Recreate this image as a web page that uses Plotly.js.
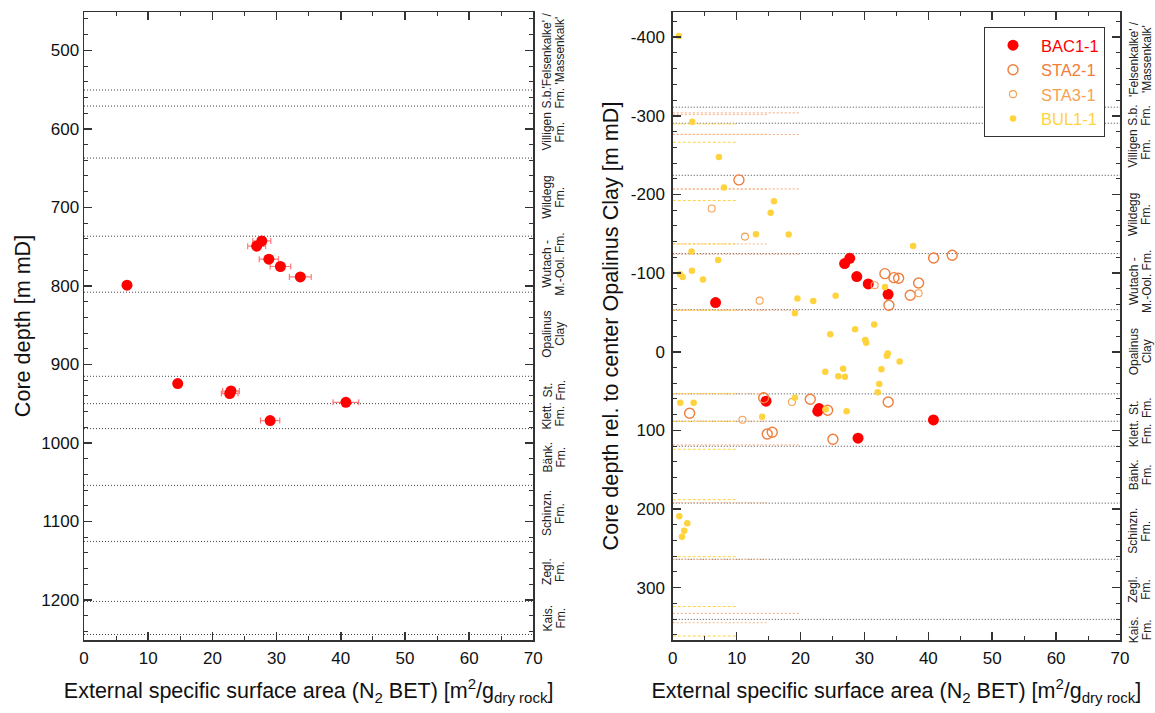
<!DOCTYPE html>
<html><head><meta charset="utf-8">
<script src="https://cdn.plot.ly/plotly-3.0.1.min.js"></script>
<style>html,body{margin:0;padding:0;background:#fff}#chart{width:1155px;height:713px}</style>
</head><body><div id="chart"></div>
<script>
// ---------------- data ----------------
const wellNames = ['BAC1-1', 'STA2-1', 'STA3-1', 'BUL1-1'];
const wellColors = ['#ff0000', '#f07d3b', '#f5a253', '#ffd33d'];

// BAC1-1: absolute core depth (left panel)
const bacX     = [6.7, 27.7, 26.9, 28.8, 30.6, 33.7, 14.6, 22.9, 22.7, 40.8, 29.0];
const bacDepth = [799, 742.7, 749.4, 766, 775.3, 788.5, 924.4, 933.8, 937.1, 948.2, 971.5];
const bacErr   = [0.4, 1.4, 1.4, 1.5, 1.6, 1.7, 0.4, 1.3, 1.3, 2.0, 1.5];

// depths relative to centre of Opalinus Clay (right panel)
const sta2X   = [10.36, 40.83, 43.74, 33.21, 34.62, 35.35, 38.48, 37.17, 33.83, 2.64, 14.23, 21.52, 14.79, 15.57, 33.72, 24.24, 25.07];
const sta2Rel = [-218.5, -119.3, -122.7, -99.3, -94.2, -93.5, -87.5, -71.9, -59.1, 78.2, 58.4, 60.4, 104.5, 102.4, 63.8, 74.4, 111.3];

const sta3X   = [6.09, 11.30, 13.60, 31.60, 38.48, 18.65, 10.91];
const sta3Rel = [-182.2, -146.4, -65.0, -84.6, -74.4, 63.8, 86.4];

const bulX   = [0.97, 3.05, 7.23, 8.01, 15.84, 15.32, 13.02, 18.14, 2.93, 7.10, 1.13, 1.55, 3.00, 4.73, 19.51, 19.12, 21.99, 25.49, 33.21, 37.62,
                24.65, 28.54, 31.52, 30.13, 30.28, 33.52, 33.65, 35.51, 32.66, 23.87, 26.67, 25.90, 26.95, 32.32, 32.08, 1.17, 3.27, 19.12, 13.99, 23.94,
                27.21, 1.02, 2.27, 1.80, 1.44];
const bulRel = [-401.6, -292.6, -247.7, -208.7, -191.4, -176.9, -149.4, -149.2, -127.6, -116.7, -98.6, -95.1, -103.1, -91.9, -67.8, -49.0, -64.6, -71.3, -82.4, -134.6,
                -22.3, -28.7, -34.5, -14.8, -11.4, 5.0, 2.2, 12.3, 22.3, 25.3, 21.5, 31.2, 31.7, 41.0, 51.5, 64.7, 64.7, 58.4, 82.5, 73.1,
                75.7, 209.2, 218.1, 227.5, 235.2];

// formation boundaries
const bacBoundaries  = [550.6, 571, 637.2, 736.7, 808.0, 915.1, 949.9, 981.7, 1054, 1125.4, 1201.8, 1243.9];
const opaTopIndex = 4, opaBaseIndex = 5;
const sta2Boundaries = [-303.7, -276.4, -207.0, -124.0, -52.8, 118.5, 332.6];
const sta3Boundaries = [-301.5, -276.4, -207.0, -137.1, -52.8, 53.3, 88.4, 191.9, 264.0, 344.5];
const bulBoundaries  = [-289.7, -266.4, -192.2, -137.1, -52.8, 53.3, 88.4, 124.0, 188.0, 260.5, 324.0, 361.4];

const formationLabels = ["'Felsenkalke' /<br>'Massenkalk'", "S.b.<br>Fm.", "Villigen<br>Fm.", "Wildegg<br>Fm.",
  "Wutach -<br>M.-Ool. Fm.", "Opalinus<br>Clay", "St.<br>Fm.", "Klett.<br>Fm.", "Bänk.<br>Fm.",
  "Schinzn.<br>Fm.", "Zegl.<br>Fm.", "Kais.<br>Fm."];

const leftTicks  = [500, 600, 700, 800, 900, 1000, 1100, 1200];
const rightTicks = [-400, -300, -200, -100, 0, 100, 200, 300];
const xTicks = [0, 10, 20, 30, 40, 50, 60, 70];

// ---------------- style ----------------
const FONT = 'Liberation Sans, Arial, Helvetica, sans-serif';
const leftRange = [1250.9, 451.2];
const rightRange = [366.5, -432.0];
const opaCenter = (bacBoundaries[opaTopIndex] + bacBoundaries[opaBaseIndex]) / 2;
const bacRel = bacDepth.map(d => d - opaCenter);
const bacRelBoundaries = bacBoundaries.map(d => d - opaCenter);

function legendName(i) { return '<span style="color:' + wellColors[i] + '">' + wellNames[i] + '</span>'; }

const traces = [
  {x: bacX, y: bacDepth, xaxis: 'x', yaxis: 'y', type: 'scatter', mode: 'markers',
   name: wellNames[0], legendgroup: 'bac', showlegend: false,
   marker: {color: wellColors[0], size: 11},
   error_x: {type: 'data', array: bacErr, visible: true, color: '#ff7a7a', thickness: 1.2, width: 3}},
  {x: bacX, y: bacRel, xaxis: 'x2', yaxis: 'y2', type: 'scatter', mode: 'markers',
   name: legendName(0), legendgroup: 'bac',
   marker: {color: wellColors[0], size: 11}},
  {x: sta2X, y: sta2Rel, xaxis: 'x2', yaxis: 'y2', type: 'scatter', mode: 'markers',
   name: legendName(1),
   marker: {symbol: 'circle-open', color: wellColors[1], size: 10, line: {width: 1.4}}},
  {x: sta3X, y: sta3Rel, xaxis: 'x2', yaxis: 'y2', type: 'scatter', mode: 'markers',
   name: legendName(2),
   marker: {symbol: 'circle-open', color: wellColors[2], size: 7, line: {width: 1.1}}},
  {x: bulX, y: bulRel, xaxis: 'x2', yaxis: 'y2', type: 'scatter', mode: 'markers',
   name: legendName(3),
   marker: {color: wellColors[3], size: 6.5}}
];

const shapes = [];
const grayLine = {color: '#444', width: 1, dash: '1px,2px'};
function inRange(v, r) { return v < Math.max(r[0], r[1]) && v > Math.min(r[0], r[1]); }
bacBoundaries.forEach(b => {
  if (inRange(b, leftRange)) shapes.push({type: 'line', xref: 'x domain', yref: 'y', x0: 0, x1: 1, y0: b, y1: b, line: grayLine, layer: 'below'});
});
bacRelBoundaries.forEach(b => {
  if (inRange(b, rightRange)) shapes.push({type: 'line', xref: 'x2 domain', yref: 'y2', x0: 0, x1: 1, y0: b, y1: b, line: grayLine, layer: 'below'});
});
const partial = [
  {vals: sta2Boundaries, len: 20, line: {color: '#f4a77a', width: 1, dash: '2px,2px'}},
  {vals: sta3Boundaries, len: 15, line: {color: '#f7b888', width: 1, dash: '2px,2px'}},
  {vals: bulBoundaries,  len: 10, line: {color: '#ffd33d', width: 1, dash: '3px,2px'}}
];
partial.forEach(p => p.vals.forEach(b => {
  if (inRange(b, rightRange)) shapes.push({type: 'line', xref: 'x2', yref: 'y2', x0: 0, x1: p.len, y0: b, y1: b, line: p.line, layer: 'below'});
}));

// formation labels centred in each interval (two text lines, 13 px apart)
const annotations = [];
function addLabels(bounds, range, yref, xpaper) {
  const top = Math.min(range[0], range[1]), bottom = Math.max(range[0], range[1]);
  const edges = [top].concat(bounds);
  formationLabels.forEach((lab, i) => {
    const a = Math.max(edges[i], top), b = Math.min(edges[i + 1], bottom);
    const lines = lab.split('<br>');
    lines.forEach((ln, k) => {
      annotations.push({text: ln, xref: 'paper', yref: yref, x: xpaper, y: (a + b) / 2,
        xshift: (k - (lines.length - 1) / 2) * 13,
        textangle: -90, showarrow: false, xanchor: 'center', yanchor: 'middle',
        font: {family: FONT, size: 12, color: '#222'}});
    });
  });
}
addLabels(bacBoundaries, leftRange, 'y', (554 - 84) / 1036);
addLabels(bacRelBoundaries, rightRange, 'y2', (1140 - 84) / 1036);

const tickFont = {family: FONT, size: 17, color: '#111'};
const base = {showgrid: false, zeroline: false, showline: true, linecolor: '#333', linewidth: 1.5,
  mirror: 'allticks', ticks: 'inside', ticklen: 8, tickwidth: 1.5, tickcolor: '#333', tickfont: tickFont};
const xTitle = 'External specific surface area (N<sub>2</sub> BET) [m<sup>2</sup>/g<sub>dry rock</sub>]';
const minorX = {ticks: 'inside', tickmode: 'linear', tick0: 0, dtick: 5, ticklen: 4, tickwidth: 1, tickcolor: '#333'};
const minorY = {ticks: 'inside', tickmode: 'linear', tick0: 0, dtick: 20, ticklen: 4, tickwidth: 1, tickcolor: '#333'};

const layout = {
  width: 1155, height: 713,
  margin: {l: 84, r: 35, t: 12, b: 73},
  paper_bgcolor: '#fff', plot_bgcolor: '#fff',
  font: {family: FONT, color: '#111'},
  xaxis: Object.assign({}, base, {domain: [0, 0.4337], anchor: 'y', range: [0, 70],
    tickmode: 'array', tickvals: xTicks, ticktext: xTicks.map(String), minor: minorX, ticklabelstandoff: 2,
    title: {text: xTitle, font: {family: FONT, size: 21.5, color: '#111'}, standoff: 16}}),
  yaxis: Object.assign({}, base, {domain: [0, 1], anchor: 'x', range: leftRange,
    tickmode: 'array', tickvals: leftTicks, ticktext: leftTicks.map(String), minor: minorY,
    title: {text: 'Core depth [m mD]', font: {family: FONT, size: 21.6, color: '#111'}, standoff: 4}}),
  xaxis2: Object.assign({}, base, {domain: [0.5683, 1], anchor: 'y2', range: [0, 70],
    tickmode: 'array', tickvals: xTicks, ticktext: xTicks.map(String), minor: minorX, ticklabelstandoff: 2,
    title: {text: xTitle, font: {family: FONT, size: 21.5, color: '#111'}, standoff: 16}}),
  yaxis2: Object.assign({}, base, {domain: [0, 1], anchor: 'x2', range: rightRange,
    tickmode: 'array', tickvals: rightTicks, ticktext: rightTicks.map(String), minor: minorY, ticklabelstandoff: 3,
    title: {text: 'Core depth rel. to center Opalinus Clay [m mD]', font: {family: FONT, size: 21.6, color: '#111'}, standoff: 6}}),
  showlegend: true,
  legend: {x: (984 - 84) / 1036, y: 1 - 15 / 628, xanchor: 'left', yanchor: 'top',
    bgcolor: '#fff', bordercolor: '#333', borderwidth: 1,
    font: {family: FONT, size: 16.5}, itemwidth: 46, tracegroupgap: 0},
  shapes: shapes,
  annotations: annotations
};

Plotly.newPlot('chart', traces, layout, {displayModeBar: false, staticPlot: true});
</script>
</body></html>
